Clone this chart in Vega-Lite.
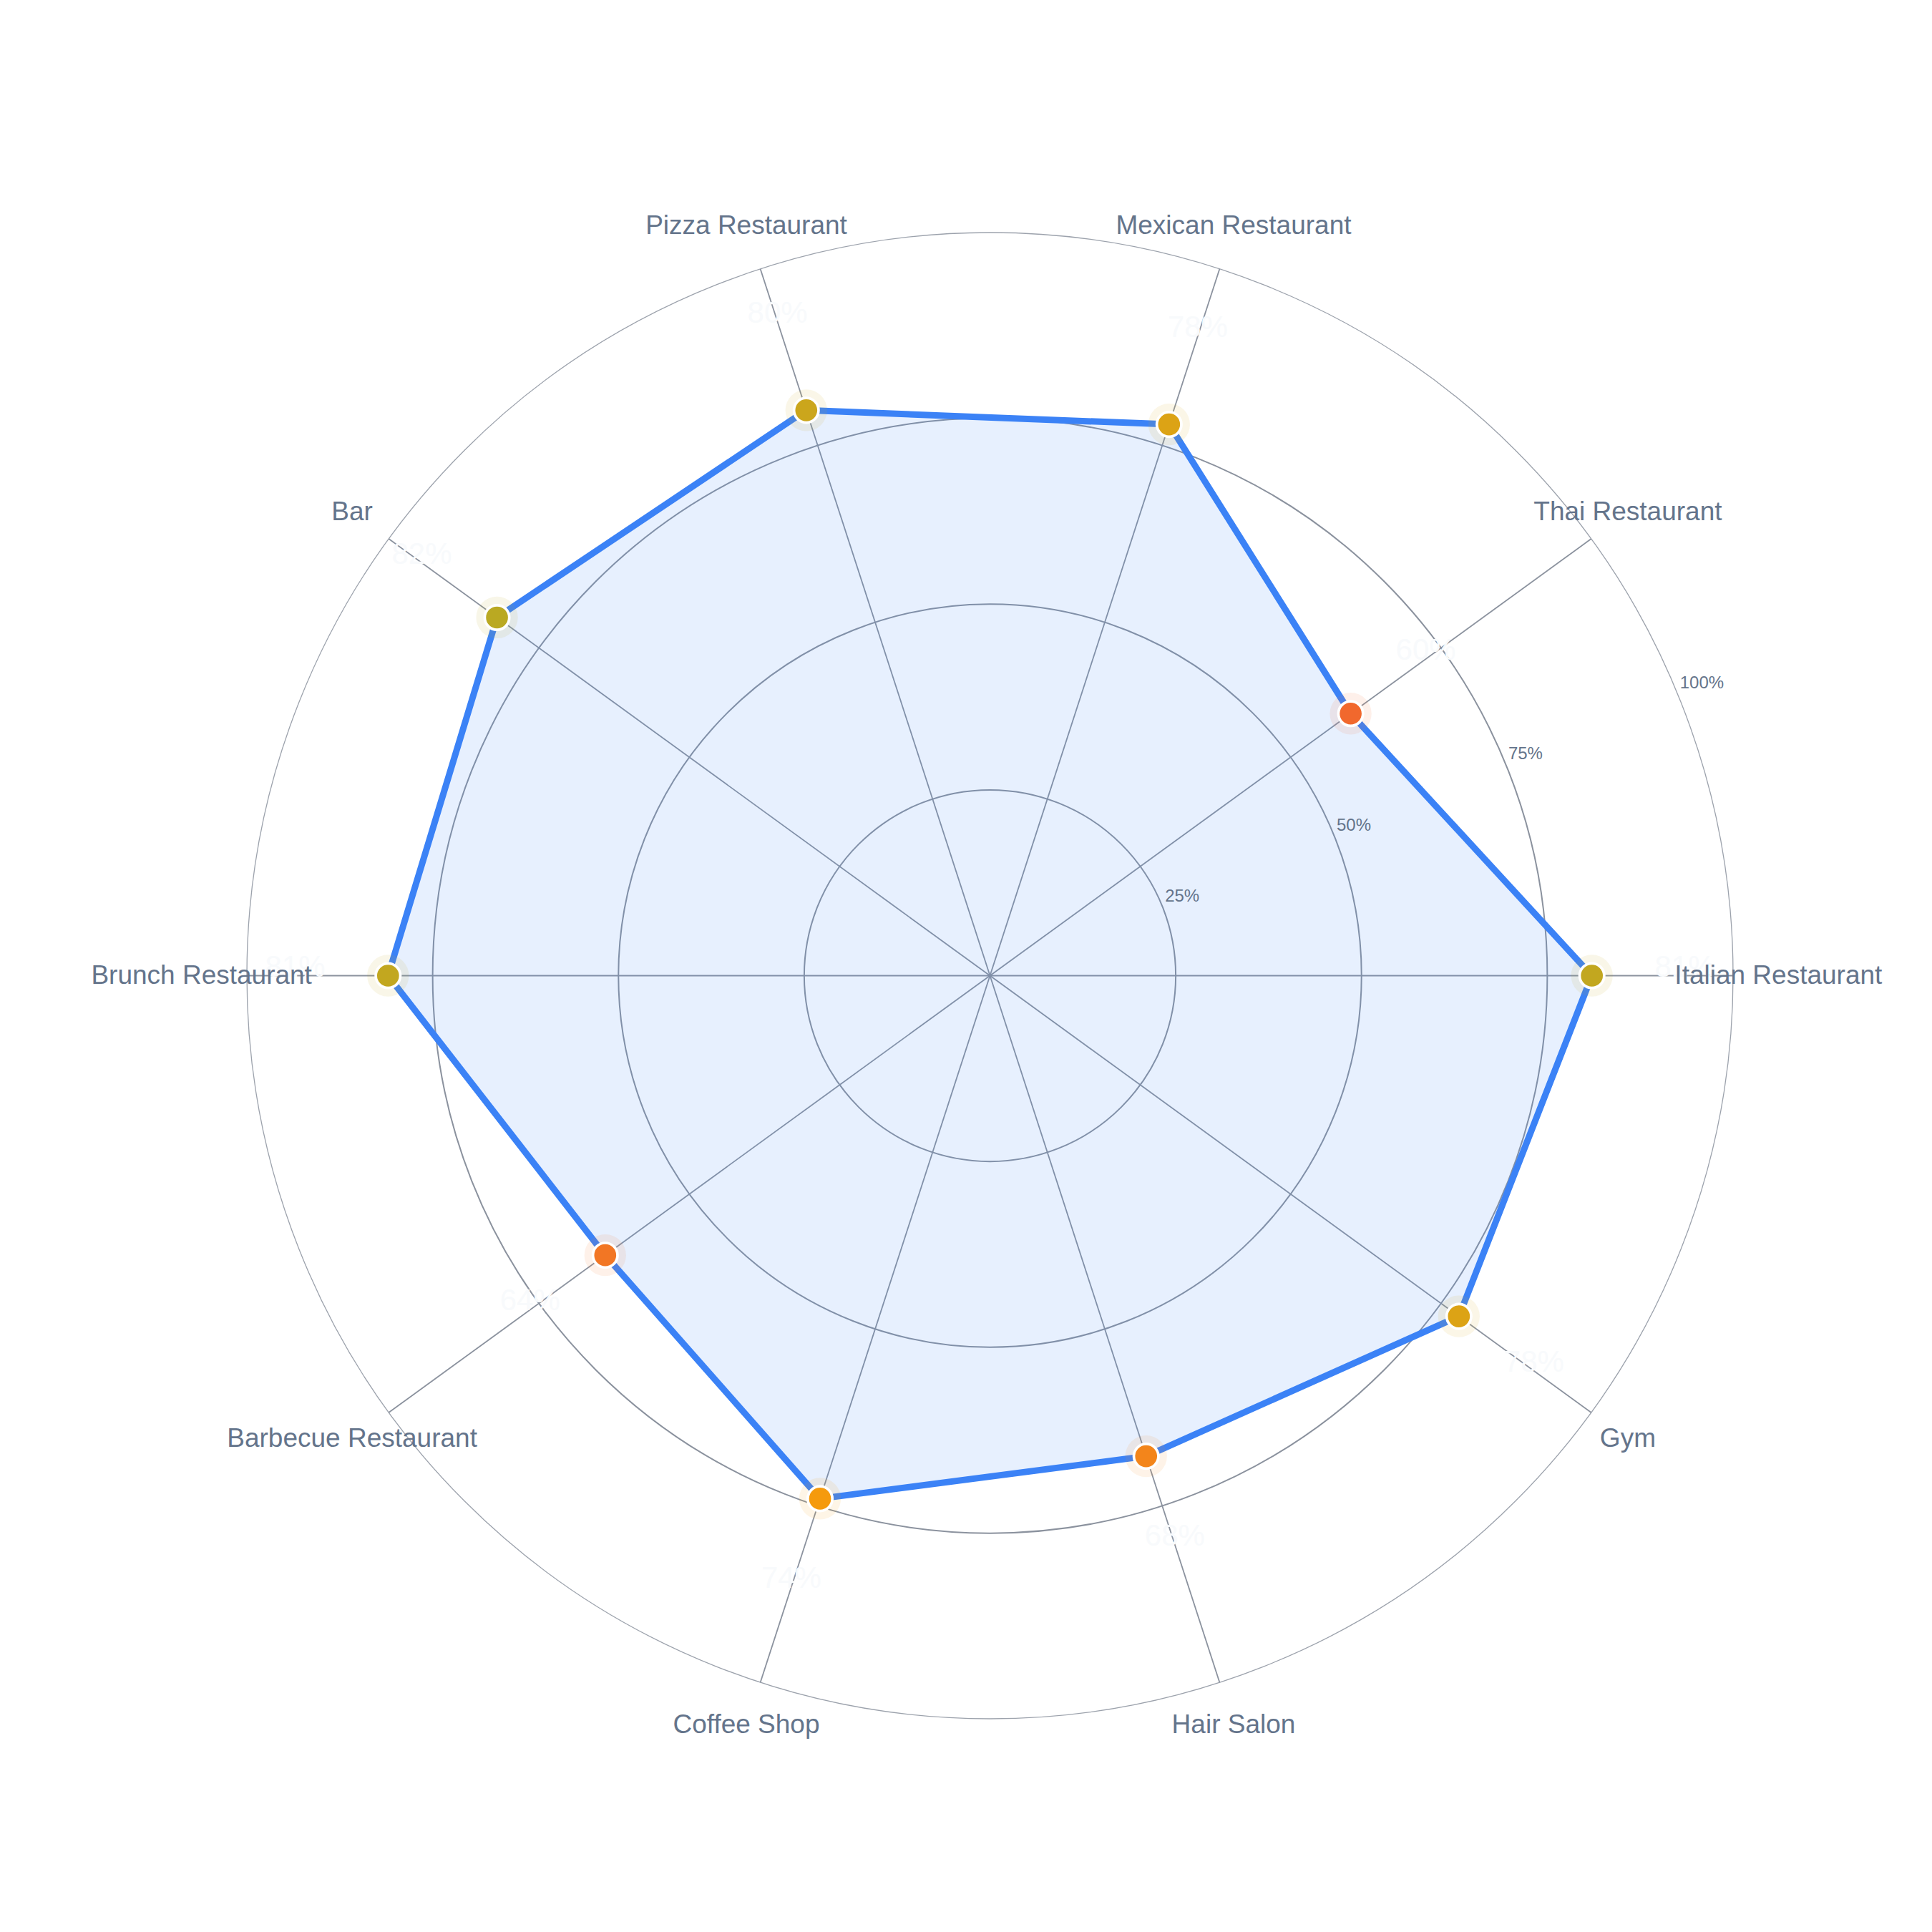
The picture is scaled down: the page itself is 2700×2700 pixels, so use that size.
{
  "$schema": "https://vega.github.io/schema/vega-lite/v6.json",
  "width": 2077,
  "height": 2077,
  "autosize": {"type": "none"},
  "padding": {"left": 345, "top": 325, "right": 278, "bottom": 298},
  "background": "white",
  "datasets": {
    "scores": [
      {"order": 0, "category": "Italian Restaurant", "value": 81},
      {"order": 1, "category": "Thai Restaurant", "value": 60},
      {"order": 2, "category": "Mexican Restaurant", "value": 78},
      {"order": 3, "category": "Pizza Restaurant", "value": 80},
      {"order": 4, "category": "Bar", "value": 82},
      {"order": 5, "category": "Brunch Restaurant", "value": 81},
      {"order": 6, "category": "Barbecue Restaurant", "value": 64},
      {"order": 7, "category": "Coffee Shop", "value": 74},
      {"order": 8, "category": "Hair Salon", "value": 68},
      {"order": 9, "category": "Gym", "value": 78}
    ],
    "rings": [{"r": 25}, {"r": 50}, {"r": 75}, {"r": 100}]
  },
  "layer": [
    {
      "data": {"name": "rings"},
      "mark": {"type": "point", "shape": "circle", "filled": false, "stroke": "#8b929e", "opacity": 1},
      "encoding": {
        "x": {"datum": 0, "type": "quantitative", "scale": {"domain": [-100, 100], "nice": false, "zero": false}, "axis": null},
        "y": {"datum": 0, "type": "quantitative", "scale": {"domain": [-100, 100], "nice": false, "zero": false}, "axis": null},
        "size": {"field": "r", "type": "quantitative", "scale": {"type": "pow", "exponent": 2, "domain": [0, 100], "range": [0, 4313929], "zero": true, "nice": false}, "legend": null},
        "strokeWidth": {"condition": {"test": "datum.r === 100", "value": 1.3}, "value": 2},
        "strokeOpacity": {"condition": {"test": "datum.r === 100", "value": 0.85}, "value": 1}
      }
    },
    {
      "data": {"name": "scores"},
      "transform": [
        {"calculate": "datum.order * PI / 5", "as": "ang"},
        {"calculate": "100 * cos(datum.ang)", "as": "sx"},
        {"calculate": "100 * sin(datum.ang)", "as": "sy"}
      ],
      "mark": {"type": "rule", "stroke": "#8b929e", "strokeWidth": 1.8},
      "encoding": {
        "x": {"field": "sx", "type": "quantitative", "axis": null},
        "y": {"field": "sy", "type": "quantitative", "axis": null},
        "x2": {"datum": 0},
        "y2": {"datum": 0}
      }
    },
    {
      "data": {"name": "scores"},
      "transform": [
        {"calculate": "datum.order * PI / 5", "as": "ang"},
        {"calculate": "datum.value * cos(datum.ang)", "as": "px"},
        {"calculate": "datum.value * sin(datum.ang)", "as": "py"}
      ],
      "layer": [
        {
          "mark": {"type": "line", "interpolate": "linear-closed", "stroke": "#3b82f6", "strokeWidth": 9, "strokeJoin": "round", "fill": "#3b82f6", "fillOpacity": 0.12},
          "encoding": {
            "x": {"field": "px", "type": "quantitative", "axis": null},
            "y": {"field": "py", "type": "quantitative", "axis": null},
            "order": {"field": "order", "type": "quantitative"}
          }
        },
        {
          "mark": {"type": "point", "filled": true, "size": 3400, "opacity": 0.1},
          "encoding": {
            "x": {"field": "px", "type": "quantitative", "axis": null},
            "y": {"field": "py", "type": "quantitative", "axis": null},
            "color": {"field": "value", "type": "quantitative", "scale": {"type": "linear", "domain": [50, 75, 100], "range": ["#ef4444", "#f59e0b", "#22c55e"], "interpolate": "rgb"}, "legend": null}
          }
        },
        {
          "mark": {"type": "point", "filled": true, "size": 1180, "opacity": 1, "stroke": "white", "strokeWidth": 3.7, "strokeOpacity": 1},
          "encoding": {
            "x": {"field": "px", "type": "quantitative", "axis": null},
            "y": {"field": "py", "type": "quantitative", "axis": null},
            "color": {"field": "value", "type": "quantitative", "legend": null}
          }
        }
      ]
    },
    {
      "data": {"name": "scores"},
      "transform": [
        {"calculate": "datum.order * PI / 5", "as": "ang"},
        {"calculate": "(datum.value + 12.5) * cos(datum.ang)", "as": "lx"},
        {"calculate": "(datum.value + 12.5) * sin(datum.ang)", "as": "ly"},
        {"calculate": "datum.value + '%'", "as": "label"}
      ],
      "mark": {"type": "text", "font": "Liberation Sans", "fontSize": 42, "color": "#f8fafc", "align": "center", "baseline": "middle", "dy": -12},
      "encoding": {
        "x": {"field": "lx", "type": "quantitative", "axis": null},
        "y": {"field": "ly", "type": "quantitative", "axis": null},
        "text": {"field": "label", "type": "nominal"}
      }
    },
    {
      "data": {"name": "scores"},
      "transform": [
        {"calculate": "datum.order * PI / 5", "as": "ang"},
        {"calculate": "106.1 * cos(datum.ang)", "as": "cx"},
        {"calculate": "106.1 * sin(datum.ang)", "as": "cy"}
      ],
      "mark": {"type": "text", "font": "Liberation Sans", "fontSize": 37, "color": "#64748b", "align": "center", "baseline": "middle"},
      "encoding": {
        "x": {"field": "cx", "type": "quantitative", "axis": null},
        "y": {"field": "cy", "type": "quantitative", "axis": null},
        "text": {"field": "category", "type": "nominal"}
      }
    },
    {
      "data": {"name": "rings"},
      "transform": [
        {"calculate": "(datum.r + 0.5) * cos(PI / 8)", "as": "tx"},
        {"calculate": "(datum.r + 0.5) * sin(PI / 8)", "as": "ty"},
        {"calculate": "datum.r + '%'", "as": "tick"}
      ],
      "mark": {"type": "text", "font": "Liberation Sans", "fontSize": 24, "color": "#64748b", "align": "left", "baseline": "middle", "dy": -9},
      "encoding": {
        "x": {"field": "tx", "type": "quantitative", "axis": null},
        "y": {"field": "ty", "type": "quantitative", "axis": null},
        "text": {"field": "tick", "type": "nominal"}
      }
    }
  ],
  "config": {"view": {"stroke": null}}
}
